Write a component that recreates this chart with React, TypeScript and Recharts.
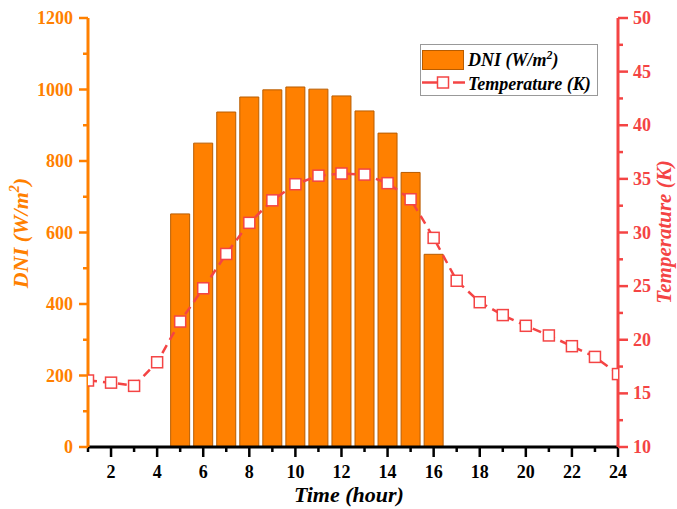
import React from 'react';
import { ComposedChart, Bar, Line, XAxis, YAxis } from 'recharts';

const ORANGE = '#FF8000';
const RED = '#F44444';
const FONT = "'Liberation Serif', 'Times New Roman', serif";

// hours of the day
const hours = [1, 2, 3, 4, 5, 6, 7, 8, 9, 10, 11, 12, 13, 14, 15, 16, 17, 18, 19, 20, 21, 22, 23, 24];
// direct normal irradiance, W/m2 (only daylight hours)
const dni = [null, null, null, null, 652, 850, 937, 979, 999, 1007, 1001, 982, 940, 878, 768, 539, null, null, null, null, null, null, null, null];
// ambient temperature
const temperature = [16.2, 16.0, 15.7, 17.9, 21.7, 24.8, 28.0, 30.9, 33.0, 34.5, 35.3, 35.5, 35.4, 34.6, 33.1, 29.5, 25.5, 23.5, 22.3, 21.3, 20.4, 19.4, 18.4, 16.8];

const xTicks = [1, 2, 3, 4, 5, 6, 7, 8, 9, 10, 11, 12, 13, 14, 15, 16, 17, 18, 19, 20, 21, 22, 23, 24];
const dniTicks = [0, 100, 200, 300, 400, 500, 600, 700, 800, 900, 1000, 1100, 1200];
const tempTicks = [10, 12.5, 15, 17.5, 20, 22.5, 25, 27.5, 30, 32.5, 35, 37.5, 40, 42.5, 45, 47.5, 50];

const data = hours.map((h, i) => ({ hour: h, dni: dni[i], temp: temperature[i] }));

const BottomTick = (props: any) => {
  const { x, y, payload } = props;
  const major = payload.value % 2 === 0;
  return (
    <g>
      <line x1={x} x2={x} y1={y} y2={y + (major ? 10 : 5)} stroke="#000" strokeWidth={2.5} />
      {major && (
        <text x={x} y={y + 31} textAnchor="middle" fill="#000" fontSize={18} fontWeight="bold" fontFamily={FONT}>
          {payload.value}
        </text>
      )}
    </g>
  );
};

const TopTick = (props: any) => {
  const { x, y, payload } = props;
  const major = payload.value % 2 === 0;
  return <line x1={x} x2={x} y1={y} y2={y + (major ? 6 : 3)} stroke="#000" strokeWidth={2.5} />;
};

const LeftTick = (props: any) => {
  const { x, y, payload } = props;
  const major = payload.value % 200 === 0;
  return (
    <g>
      <line x1={x} x2={x - (major ? 9 : 5)} y1={y} y2={y} stroke={ORANGE} strokeWidth={2.5} />
      {major && (
        <text x={x - 15} y={y + 6} textAnchor="end" fill={ORANGE} fontSize={18} fontWeight="bold" fontFamily={FONT}>
          {payload.value}
        </text>
      )}
    </g>
  );
};

const RightTick = (props: any) => {
  const { x, y, payload } = props;
  const major = payload.value % 5 === 0;
  return (
    <g>
      <line x1={x} x2={x + (major ? 10 : 5)} y1={y} y2={y} stroke={RED} strokeWidth={2.5} />
      {major && (
        <text x={x + 15} y={y + 6} textAnchor="start" fill={RED} fontSize={18} fontWeight="bold" fontFamily={FONT}>
          {payload.value}
        </text>
      )}
    </g>
  );
};

const SquareDot = (props: any) => {
  const { cx, cy } = props;
  if (cx == null || cy == null) return null;
  return <rect x={cx - 5.5} y={cy - 5.5} width={11} height={11} fill="#fff" stroke={RED} strokeWidth={1.5} />;
};

const LeftTitle = () => (
  <text transform="translate(28,233) rotate(-90)" textAnchor="middle" fill={ORANGE} fontSize={22} fontWeight="bold" fontStyle="italic" fontFamily={FONT}>
    DNI (W/m<tspan dy={-9} fontSize={14}>2</tspan><tspan dy={9}>)</tspan>
  </text>
);

const RightTitle = () => (
  <text transform="translate(671,232) rotate(-90)" textAnchor="middle" fill={RED} fontSize={21} fontWeight="bold" fontStyle="italic" fontFamily={FONT}>
    Temperature (K)
  </text>
);

const BottomTitle = () => (
  <text x={349} y={502} textAnchor="middle" fill="#000" fontSize={22} fontWeight="bold" fontStyle="italic" fontFamily={FONT}>
    Time (hour)
  </text>
);

const LegendBox = () => (
  <svg width={178} height={52} style={{ display: 'block' }}>
    <rect x={0.5} y={0.5} width={177} height={51} fill="#fff" stroke="#999" strokeWidth={1} />
    <rect x={2.5} y={6.5} width={41} height={19} fill={ORANGE} stroke="#B85C00" strokeWidth={1} />
    <text x={48} y={22} fontSize={18} fontWeight="bold" fontStyle="italic" fontFamily={FONT} fill="#000">
      DNI (W/m<tspan dy={-7} fontSize={12}>2</tspan><tspan dy={7}>)</tspan>
    </text>
    <line x1={2} x2={17} y1={38.5} y2={38.5} stroke={RED} strokeWidth={2.5} />
    <line x1={33} x2={45} y1={38.5} y2={38.5} stroke={RED} strokeWidth={2.5} />
    <rect x={17.5} y={33} width={11} height={11} fill="#fff" stroke={RED} strokeWidth={1.5} />
    <text x={48} y={46} fontSize={18} fontWeight="bold" fontStyle="italic" fontFamily={FONT} fill="#000">
      Temperature (K)
    </text>
  </svg>
);

export default function App() {
  return (
    <div style={{ position: 'absolute', left: 0, top: 0, width: 677, height: 509, background: '#fff' }}>
      <ComposedChart width={677} height={509} data={data} margin={{ top: 18, right: 0, bottom: 0, left: 0 }}>
        <XAxis
          xAxisId="bottom"
          dataKey="hour"
          type="number"
          domain={[1, 24]}
          ticks={xTicks}
          interval={0}
          allowDataOverflow
          height={62}
          tickSize={0}
          tickMargin={0}
          tick={<BottomTick />}
          axisLine={{ stroke: '#000', strokeWidth: 3 }}
          label={<BottomTitle />}
        />
        <XAxis
          xAxisId="top"
          dataKey="hour"
          type="number"
          orientation="top"
          domain={[1, 24]}
          ticks={xTicks}
          interval={0}
          allowDataOverflow
          height={0}
          tickSize={0}
          tickMargin={0}
          tick={<TopTick />}
          axisLine={{ stroke: '#000', strokeWidth: 3 }}
        />
        <YAxis
          yAxisId="left"
          domain={[0, 1200]}
          ticks={dniTicks}
          interval={0}
          width={88}
          tickSize={0}
          tickMargin={0}
          tick={<LeftTick />}
          axisLine={{ stroke: ORANGE, strokeWidth: 3 }}
          label={<LeftTitle />}
        />
        <YAxis
          yAxisId="right"
          orientation="right"
          domain={[10, 50]}
          ticks={tempTicks}
          interval={0}
          width={59}
          tickSize={0}
          tickMargin={0}
          tick={<RightTick />}
          axisLine={{ stroke: RED, strokeWidth: 3 }}
          label={<RightTitle />}
        />
        <Bar
          xAxisId="bottom"
          yAxisId="left"
          dataKey="dni"
          fill={ORANGE}
          stroke="#B85C00"
          strokeWidth={1}
          barSize={19}
          isAnimationActive={false}
        />
        <Line
          xAxisId="bottom"
          yAxisId="right"
          dataKey="temp"
          stroke={RED}
          strokeWidth={2.5}
          strokeDasharray="9 6"
          dot={<SquareDot />}
          activeDot={false}
          isAnimationActive={false}
        />
      </ComposedChart>
      <div style={{ position: 'absolute', left: 420, top: 44 }}>
        <LegendBox />
      </div>
    </div>
  );
}
